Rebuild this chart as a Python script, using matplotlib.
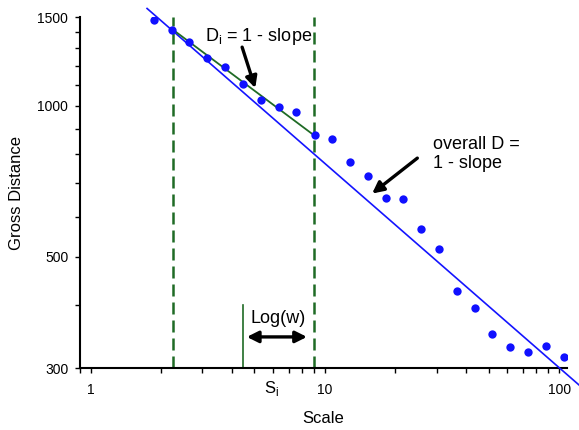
import numpy as np
import matplotlib
matplotlib.use('Agg')
import matplotlib.pyplot as plt
from matplotlib.ticker import FixedLocator, NullFormatter, LogLocator

plt.rcParams['font.family'] = ['Liberation Sans', 'DejaVu Sans']
plt.rcParams['mathtext.fontset'] = 'custom'
plt.rcParams['mathtext.rm'] = 'Liberation Sans'

# measured points (scale vs gross distance)
scale = [1.86, 2.23, 2.64, 3.15, 3.76, 4.48, 5.34, 6.36, 7.54, 9.03, 10.75, 12.79,
         15.27, 18.17, 21.6, 25.8, 30.8, 36.7, 43.6, 51.9, 61.7, 73.4, 87.6, 104.6]
gross_dist = [1480, 1418, 1337, 1245, 1192, 1107, 1027, 992, 970, 874, 859, 771,
              725, 654, 651, 567, 517, 428, 396, 351, 330, 323, 332, 315]

# overall fit line and local fit inside the window
overall_x = [1.74, 122.1]
overall_y = [1562, 277]
local_x = [2.24, 8.95]
local_y = [1418, 874]

# window around S_i
win_lo, win_hi = 2.24, 8.95
s_i = 4.48

x_ticks = [1, 10, 100]
x_ticklabels = ['1', '10', '100']
y_ticks = [300, 500, 1000, 1500]
y_ticklabels = ['300', '500', '1000', '1500']
y_minor = [400, 600, 700, 800, 900, 1100, 1200, 1300, 1400]

green = '#1f6b25'

fig = plt.figure(figsize=(5.79, 4.30), dpi=100)
ax = fig.add_axes([80/579, 1 - 368/430, 487/579, 350.7/430])

ax.set_xscale('log')
ax.set_yscale('log')
ax.set_xlim(0.9, 108)
ax.set_ylim(300, 1500)

# dashed window edges and the S_i marker
ax.plot([win_lo, win_lo], [300, 1500], color=green, lw=1.8, dashes=(4.8, 2.4))
ax.plot([win_hi, win_hi], [300, 1500], color=green, lw=1.8, dashes=(4.8, 2.4))
ax.plot([s_i, s_i], [300, 400], color=green, lw=1.2)

# fit lines
ax.plot(overall_x, overall_y, color='#1414ff', lw=1.2, clip_on=False, zorder=3)
ax.plot(local_x, local_y, color=green, lw=1.3, zorder=3)

# data points
ax.plot(scale, gross_dist, 'o', color='#1010ff', ms=6, mec='none', zorder=4)

# annotations
ax.text(3.08, 1346, r'D$_\mathregular{i}$ = 1 - slope', fontsize=13, ha='left', va='baseline')
ax.annotate('', xy=(5.04, 1084), xytext=(4.43, 1308),
            arrowprops=dict(arrowstyle='-|>', color='black', lw=2.4, mutation_scale=17, shrinkA=0, shrinkB=0))
ax.text(28.9, 818, 'overall D =', fontsize=13, ha='left', va='baseline')
ax.text(28.9, 752, '1 - slope', fontsize=13, ha='left', va='baseline')
ax.annotate('', xy=(15.9, 668), xytext=(24.8, 786),
            arrowprops=dict(arrowstyle='-|>', color='black', lw=2.4, mutation_scale=17, shrinkA=0, shrinkB=0))
ax.text(4.80, 369, 'Log(w)', fontsize=13, ha='left', va='baseline')
ax.annotate('', xy=(8.38, 346), xytext=(4.64, 346),
            arrowprops=dict(arrowstyle='<|-|>', color='black', lw=2.4, mutation_scale=17, shrinkA=0, shrinkB=0))
ax.text(5.47, 268, r'S$_\mathregular{i}$', fontsize=12, ha='left', va='baseline')

# axes styling
for side in ['top', 'right']:
    ax.spines[side].set_visible(False)
ax.spines['left'].set_linewidth(1.5)
ax.spines['bottom'].set_linewidth(1.5)

ax.xaxis.set_major_locator(FixedLocator(x_ticks))
ax.set_xticklabels(x_ticklabels)
ax.xaxis.set_minor_locator(LogLocator(subs=np.arange(2, 10)))
ax.xaxis.set_minor_formatter(NullFormatter())
ax.yaxis.set_major_locator(FixedLocator(y_ticks))
ax.set_yticklabels(y_ticklabels)
ax.yaxis.set_minor_locator(FixedLocator(y_minor))
ax.yaxis.set_minor_formatter(NullFormatter())

ax.tick_params(axis='x', which='both', direction='out', length=3.5, width=1, pad=7, labelsize=10)
ax.tick_params(axis='y', which='both', direction='out', length=3.5, width=1, pad=5, labelsize=10)

fig.text(323/579, 1 - 422.7/430, 'Scale', fontsize=12, ha='center', va='baseline')
fig.text(17/579, 1 - 192.5/430, 'Gross Distance', fontsize=12, ha='center', va='center', rotation=90)

fig.savefig('out.png', dpi=100)
